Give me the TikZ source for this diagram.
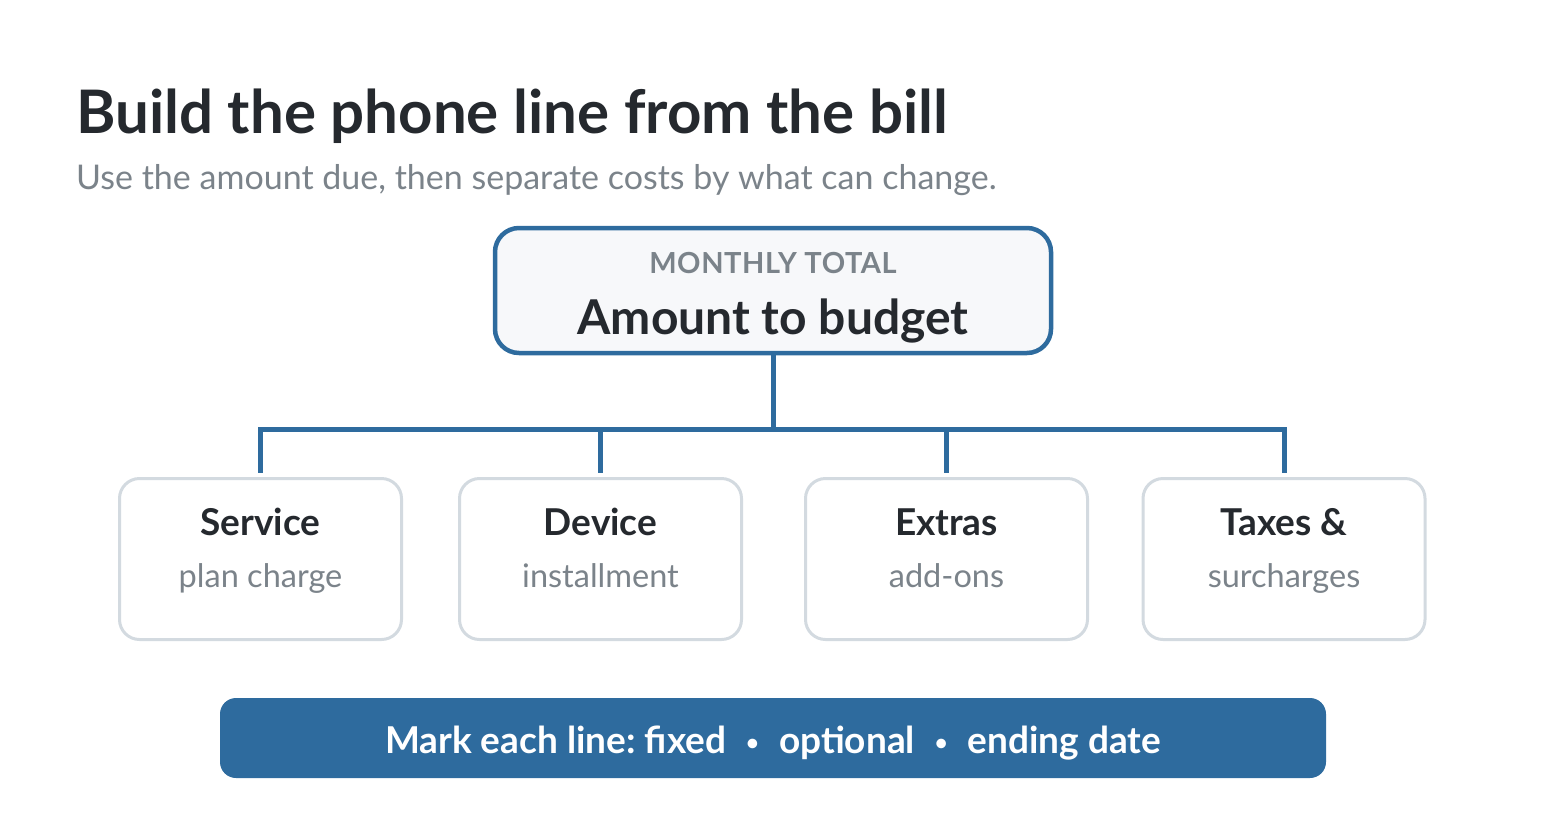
\documentclass[tikz,border=0pt]{standalone}
\usepackage{fontspec}
\setmainfont{Lato}
\usetikzlibrary{positioning}
\definecolor{ink}{HTML}{25292E}
\definecolor{mute}{HTML}{7B838A}
\definecolor{navy}{HTML}{2E6B9E}
\definecolor{edge}{HTML}{D3DAE0}
\definecolor{pale}{HTML}{F7F8FA}
\newcommand{\fs}[1]{\fontsize{#1}{#1}\selectfont}
\newcommand{\sepdot}{\hspace{20pt}\raisebox{3pt}{\fs{22}•}\hspace{20pt}}
\tikzset{
  total/.style={draw=navy, line width=4.5pt, fill=pale, rounded corners=24pt, minimum width=556pt, minimum height=125pt},
  part/.style={draw=edge, line width=3pt, fill=white, rounded corners=20pt, minimum width=282pt, minimum height=161pt},
  head/.style={anchor=base, text=ink, font=\fs{37}\bfseries},
  sub/.style={anchor=base, text=mute, font=\fs{32.5}},
  link/.style={draw=navy, line width=5pt}
}
\begin{document}
\begin{tikzpicture}[x=1pt,y=-1pt]
			\useasboundingbox (0,0) rectangle (1546,820);
			\node[anchor=base west, inner sep=0pt, text=ink, font=\fs{60}\bfseries] (title) at (76,133) {Build the phone line from the bill};
			\node[anchor=base west, inner sep=0pt, text=mute, font=\fs{34}] (subtitle) at (76,189) {Use the amount due, then separate costs by what can change.};
			%
			\node[total] (sum) at (773,290.5) {};
			\node[anchor=base, text=mute, font=\fs{29}\bfseries\addfontfeature{LetterSpace=2}] (sum-k) at (773,273) {MONTHLY TOTAL};
			\node[anchor=base, text=ink, font=\fs{48}\bfseries] (sum-h) at (773,334) {Amount to budget};
			\coordinate (hub) at (773,429);
			\draw[link] (sum) -- (hub);
			%
			\def\parts {svc/260.5/Service/plan charge, dev/600.5/Device/installment, ext/946.5/Extras/add-ons, tax/1284/Taxes \&/surcharges}  % boxes
			\foreach \n/\x/\head/\sub in \parts
			{	\node[part] (\n) at (\x,559) {};
				\node[head] (\n-h) at (\x,535) {\head};
				\node[sub] (\n-s) at (\x,587) {\sub};
				\draw[link, shorten >=4pt] (hub) -| (\n);
			}
			%
			\node[fill=navy, rounded corners=16pt, minimum width=1106pt, minimum height=80pt] (mark) at (773,738) {};
			\node[anchor=base, text=white, font=\fs{37}\bfseries] (mark-t) at (773,753) {Mark each line:\hspace{-3pt} fixed\sepdot optional\sepdot ending date};
		\end{tikzpicture}
\end{document}
